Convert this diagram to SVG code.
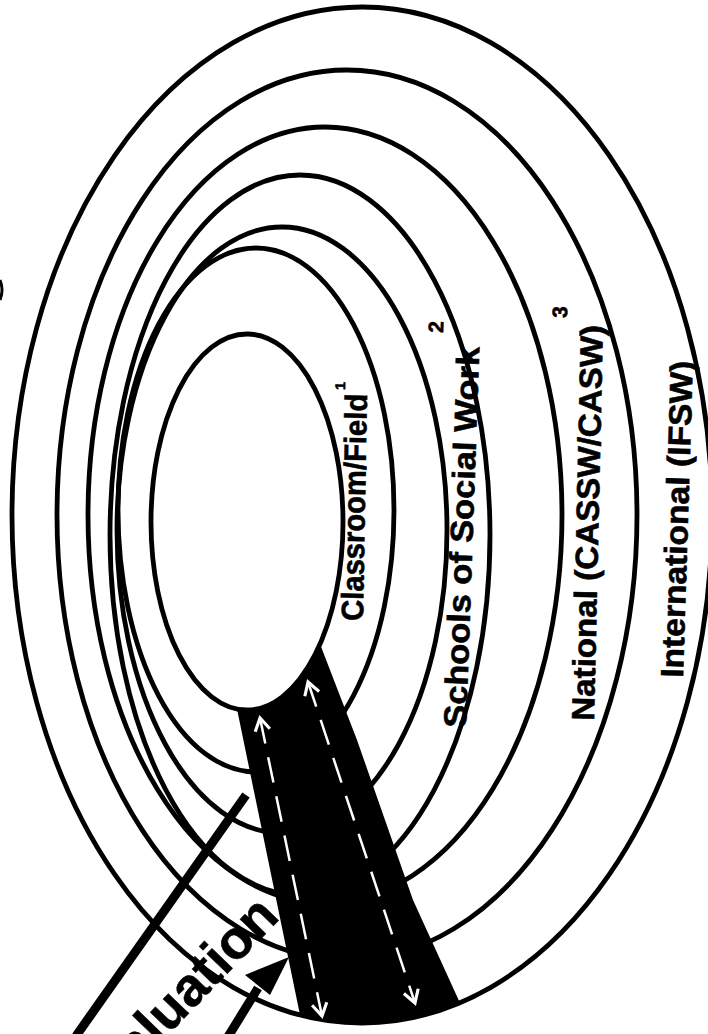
<svg xmlns="http://www.w3.org/2000/svg" width="708" height="1034" viewBox="0 0 708 1034">
<defs>
<style>
.ring{fill:none;stroke:#000;stroke-width:4.8}
.lbl{font-family:"Liberation Sans",Arial,sans-serif;font-weight:bold;fill:#000;stroke:#000;stroke-width:0.6}
.dash{fill:none;stroke:#fff;stroke-width:2.5;stroke-dasharray:26 14}
.thick{fill:none;stroke:#000;stroke-width:9}
</style>
<marker id="wh" markerUnits="userSpaceOnUse" markerWidth="20" markerHeight="20" refX="0" refY="0" viewBox="-12 -8 14 16" orient="auto-start-reverse">
<path d="M-10,-6 L0,0 L-10,6" fill="none" stroke="#fff" stroke-width="2.5"/>
</marker>
</defs>
<rect width="708" height="1034" fill="#fff"/>
<g id="international"><ellipse class="ring" cx="362" cy="515" rx="350" ry="508"/></g>
<g id="national"><ellipse class="ring" cx="347" cy="515" rx="290" ry="445"/></g>
<g id="national-inner"><ellipse class="ring" cx="325" cy="515" rx="237" ry="388"/></g>
<g id="schools"><ellipse class="ring" cx="300" cy="535" rx="190" ry="360"/></g>
<g id="schools-inner"><ellipse class="ring" cx="282" cy="530" rx="165" ry="303"/></g>
<g id="classroom-outer"><ellipse class="ring" cx="256" cy="510" rx="138" ry="262"/></g>
<g id="classroom"><ellipse class="ring" cx="247" cy="522" rx="96" ry="188"/></g>
<g id="labels">
<text class="lbl" font-size="31" transform="translate(363,621) rotate(-89)" textLength="227" lengthAdjust="spacingAndGlyphs">Classroom/Field</text>
<text class="lbl" font-size="14" transform="translate(345,390) rotate(-89)">1</text>
<text class="lbl" font-size="32" transform="translate(466,728) rotate(-88)" textLength="381" lengthAdjust="spacingAndGlyphs">Schools of Social Work</text>
<text class="lbl" font-size="21" transform="translate(443,333) rotate(-88)">2</text>
<text class="lbl" font-size="32" transform="translate(594,721) rotate(-88.7)" textLength="396" lengthAdjust="spacingAndGlyphs">National (CASSW/CASW)</text>
<text class="lbl" font-size="21" transform="translate(567,318) rotate(-88.7)">3</text>
<text class="lbl" font-size="32" transform="translate(683,678) rotate(-88.2)" textLength="317" lengthAdjust="spacingAndGlyphs">International (IFSW)</text>
</g>
<g id="connectors">
<path id="road" d="M237,709 A96 188 0 0 0 320,644 L357,740 L413,900 L460,1003 A350 508 0 0 1 300,1015 Z" fill="#000"/>
<path class="dash" d="M260,718 L322,1016" marker-start="url(#wh)" marker-end="url(#wh)"/>
<path class="dash" d="M308,682 L415,1003" marker-start="url(#wh)" marker-end="url(#wh)"/>
<path class="thick" d="M246,795 L76,1036"/>
<path class="thick" d="M258,988 L226,1040"/>
<polygon points="289,957 245,975 270,995" fill="#000"/>
<path d="M0,280 Q4,290 0,300" fill="none" stroke="#000" stroke-width="3"/>
</g>
<text class="lbl" font-size="54" text-anchor="end" transform="translate(281,918) rotate(-46)">Evaluation</text>
</svg>
